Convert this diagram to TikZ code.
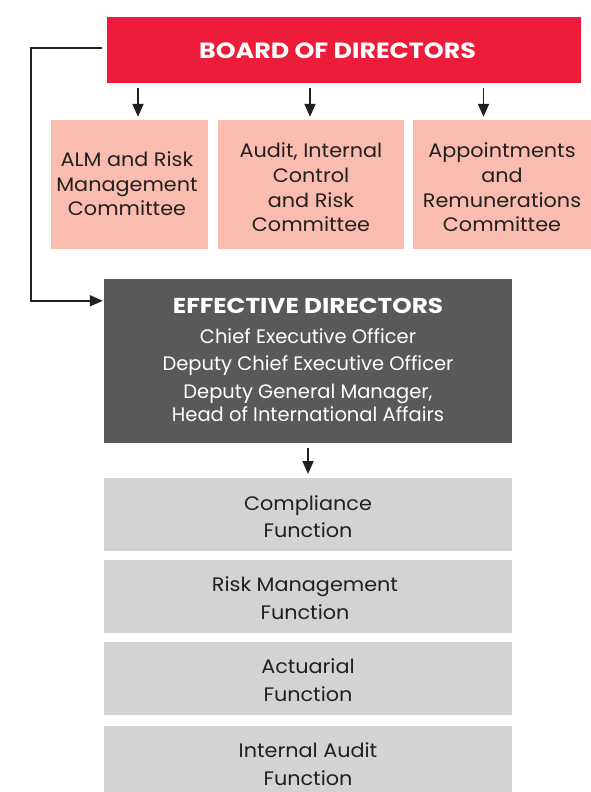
\documentclass[tikz,border=0pt]{standalone}
\usepackage{fontspec}
\setmainfont{Poppins}[FakeStretch=1.065]
\newfontfamily\titlefont{Poppins}[FakeStretch=1.15]
\newfontfamily\plainfont{Poppins}
\usetikzlibrary{arrows.meta,calc}
\definecolor{boardred}{HTML}{ED1C3A}
\definecolor{compink}{HTML}{F9BCAF}
\definecolor{effgray}{HTML}{58595B}
\definecolor{fungray}{HTML}{D1D3D4}
\definecolor{ink}{HTML}{231F20}
\begin{document}
\begin{tikzpicture}[x=1pt,y=-1pt,
  panel/.style={rectangle, inner sep=0pt, draw=none},
  label/.style={inner sep=0pt, anchor=base, align=center},
  comtext/.style={label, text=ink, font=\fontsize{19.5}{24.6}\selectfont},
  funtext/.style={label, text=ink, font=\fontsize{19.5}{27.7}\selectfont},
  efftext/.style={label, text=white, font=\plainfont\fontsize{19.5}{23}\selectfont},
  link/.style={draw=ink, line width=1.8pt, -{Triangle[length=13pt,width=11pt]}}
]
\useasboundingbox (0,0) rectangle (591,792);

% Board of directors
\node[panel, fill=boardred, minimum width=474pt, minimum height=66pt] (board) at (344,50) {};
\node[label, text=white, font=\titlefont\bfseries\fontsize{22}{22}\selectfont] (boardtext) at (337.5,58.5) {BOARD OF DIRECTORS};

% Committees
\node[panel, fill=compink, minimum width=157pt, minimum height=129pt] (alm) at (129.5,184.5) {};
\node[panel, fill=compink, minimum width=186pt, minimum height=129pt] (audit) at (311,184.5) {};
\node[panel, fill=compink, minimum width=178pt, minimum height=129pt] (appt) at (502,184.5) {};
\node[comtext] (almtext) at (127,215.7) {ALM and Risk\\Management\\Committee};
\node[comtext] (audittext) at (311,231.7) {Audit, Internal\\Control\\and Risk\\Committee};
\node[comtext] (appttext) at (502,231.7) {Appointments\\and\\Remunerations\\Committee};

% Arrow columns
\coordinate (c1) at (138,0);
\coordinate (c2) at (310,0);
\coordinate (c3) at (483.5,0);
\draw[link, shorten <=5pt, shorten >=3pt] (board.south -| c1) -- (alm.north -| c1);
\draw[link, shorten <=5pt, shorten >=3pt] (board.south -| c2) -- (audit.north -| c2);
\draw[link, shorten <=5pt, shorten >=3pt] (board.south -| c3) -- (appt.north -| c3);

% Effective directors
\node[panel, fill=effgray, minimum width=408pt, minimum height=164pt] (eff) at (308,361) {};
\node[label, text=white, font=\titlefont\bfseries\fontsize{21.5}{21.5}\selectfont] (efftitle) at (308,313) {EFFECTIVE DIRECTORS};
\node[efftext] (ceo) at (308,343) {Chief Executive Officer};
\node[efftext] (dceo) at (308,370) {Deputy Chief Executive Officer};
\node[efftext] (dgm) at (308,421) {Deputy General Manager,\\Head of International Affairs};

% Board to effective directors
\coordinate (bstart) at ($(board.west)+(0,-2)$);
\coordinate (bend) at (31,0);
\coordinate (effin) at ($(eff.north west)+(0,22)$);
\draw[link, shorten <=5pt, shorten >=1pt] (bstart) -- (bstart -| bend) |- (effin);

% Key functions
\node[panel, fill=fungray, minimum width=408pt, minimum height=73pt, anchor=north] (comp) at (308,478) {};
\node[panel, fill=fungray, minimum width=408pt, minimum height=73pt, anchor=north] (risk) at (308,560) {};
\node[panel, fill=fungray, minimum width=408pt, minimum height=73pt, anchor=north] (act) at (308,642) {};
\node[panel, fill=fungray, minimum width=408pt, minimum height=73pt, anchor=north] (ia) at (308,726) {};
\node[funtext] (comptext) at (308,537.7) {Compliance\\Function};
\node[funtext] (risktext) at (305,619.3) {Risk Management\\Function};
\node[funtext] (acttext) at (308,701) {Actuarial\\Function};
\node[funtext] (iatext) at (308,785) {Internal Audit\\Function};

\draw[link, shorten <=5pt, shorten >=4pt] (eff.south) -- (comp.north);
\end{tikzpicture}
\end{document}
